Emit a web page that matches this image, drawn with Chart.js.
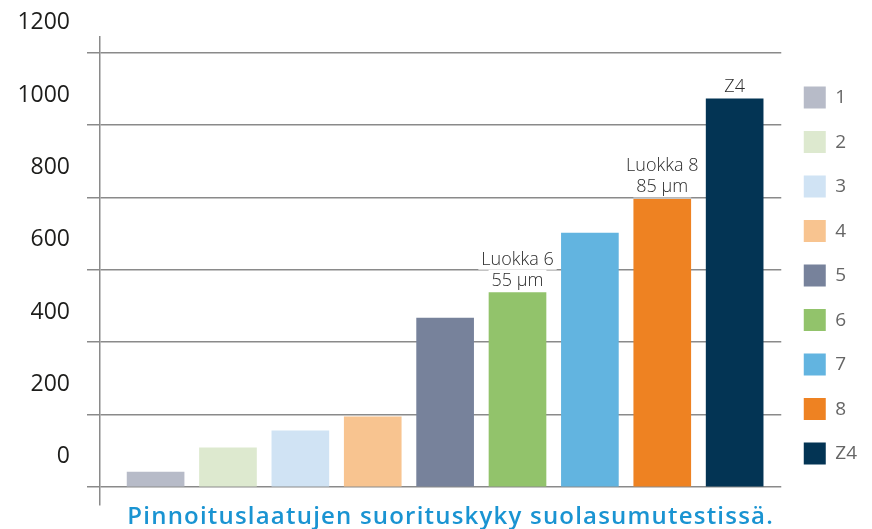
<!DOCTYPE html>
<html>
<head>
<meta charset="utf-8">
<script src="https://cdn.jsdelivr.net/npm/chart.js@4/dist/chart.umd.min.js"></script>
<style>
  html, body { margin: 0; padding: 0; background: #fff; }
  canvas { display: block; }
</style>
</head>
<body>
<canvas id="chart" width="872" height="529"></canvas>
<script>
const categories = ['1', '2', '3', '4', '5', '6', '7', '8', 'Z4'];
const hours = [41, 108, 155, 194, 467, 537, 702, 795, 1073];
const barColors = [
  '#b7bbc8',
  '#dde9cf',
  '#d0e3f4',
  '#f8c490',
  '#77829b',
  '#92c36b',
  '#62b4e0',
  '#ee8222',
  '#033454',
];
const barNotes = ['', '', '', '', '', 'Luokka 6\n55 µm', '', 'Luokka 8\n85 µm', 'Z4'];
const yTicks = [0, 200, 400, 600, 800, 1000, 1200];
const chartTitle = 'Pinnoituslaatujen suorituskyky suolasumutestissä.';

// notes above some bars, white box behind so grid line breaks
const barNotesPlugin = {
  id: 'barNotes',
  afterDatasetsDraw(chart) {
    const ctx = chart.ctx;
    const meta = chart.getDatasetMeta(0);
    ctx.save();
    ctx.font = '300 18px "Open Sans"';
    ctx.textAlign = 'center';
    ctx.textBaseline = 'alphabetic';
    meta.data.forEach((bar, i) => {
      if (!barNotes[i]) return;
      const lines = barNotes[i].split('\n');
      lines.forEach((line, j) => {
        const y = bar.y - 7 - (lines.length - 1 - j) * 21;
        const w = ctx.measureText(line).width;
        ctx.fillStyle = '#fff';
        ctx.fillRect(bar.x - w / 2 - 3, y - 16, w + 6, 21);
      });
      ctx.fillStyle = '#2b2b2b';
      lines.forEach((line, j) => {
        const y = bar.y - 7 - (lines.length - 1 - j) * 21;
        ctx.fillText(line, bar.x, y);
      });
    });
    ctx.restore();
  }
};

// the caption is set a bit wider and sits right of centre
const titleSpacing = {
  id: 'titleSpacing',
  beforeDraw(chart) {
    const t = chart.titleBlock;
    if (!t || t._spaced) return;
    const orig = t.draw.bind(t);
    t.draw = (area) => {
      chart.ctx.save();
      chart.ctx.letterSpacing = '1.2px';
      chart.ctx.translate(10, 0);
      orig(area);
      chart.ctx.restore();
    };
    t._spaced = true;
  }
};

const ctx = document.getElementById('chart');
new Chart(ctx, {
  type: 'bar',
  data: {
    labels: categories,
    datasets: [{
      data: hours.map((v, i) => ({ x: i + 1, y: v })),
      backgroundColor: barColors,
      borderWidth: 0,
      barThickness: 57,
    }],
  },
  options: {
    responsive: false,
    animation: false,
    layout: { autoPadding: false, padding: { top: 37, left: 0, right: 5, bottom: 0 } },
    scales: {
      x: {
        type: 'linear',
        display: false,
        offset: false,
        min: 0.232,
        max: 9.644,
      },
      y: {
        min: -50,
        max: 1244,
        afterFit: (scale) => {
          scale.width = 100;
          scale.paddingTop = 0;
          scale.paddingBottom = 0;
        },
        afterBuildTicks: (scale) => { scale.ticks = yTicks.map((v) => ({ value: v })); },
        grid: { color: '#8a8a8a', lineWidth: 1.5, tickLength: 13 },
        border: { color: '#8a8a8a', width: 1.5 },
        ticks: {
          padding: 17,
          labelOffset: -30,
          color: '#1d1d1b',
          font: { family: '"Open Sans"', size: 23 },
          callback: (v) => String(v),
        },
      },
    },
    plugins: {
      legend: {
        position: 'right',
        fullSize: false,
        title: { display: true, text: '', font: { size: 1 }, padding: { top: 8, bottom: 0 } },
        labels: {
          boxWidth: 22,
          boxHeight: 22,
          padding: 22.5,
          color: '#1d1d1b',
          font: { family: '"Open Sans"', size: 19 },
          generateLabels: () => categories.map((c, i) => ({
            text: c,
            fillStyle: barColors[i],
            strokeStyle: barColors[i],
            lineWidth: 0,
            hidden: false,
            index: i,
          })),
        },
      },
      title: {
        display: true,
        position: 'bottom',
        fullSize: false,
        text: chartTitle,
        color: '#1a94d2',
        font: { family: '"Open Sans"', size: 24, weight: '600', lineHeight: 1 },
        padding: 0,
      },
      tooltip: { enabled: false },
    },
  },
  plugins: [barNotesPlugin, titleSpacing],
});
</script>
</body>
</html>
